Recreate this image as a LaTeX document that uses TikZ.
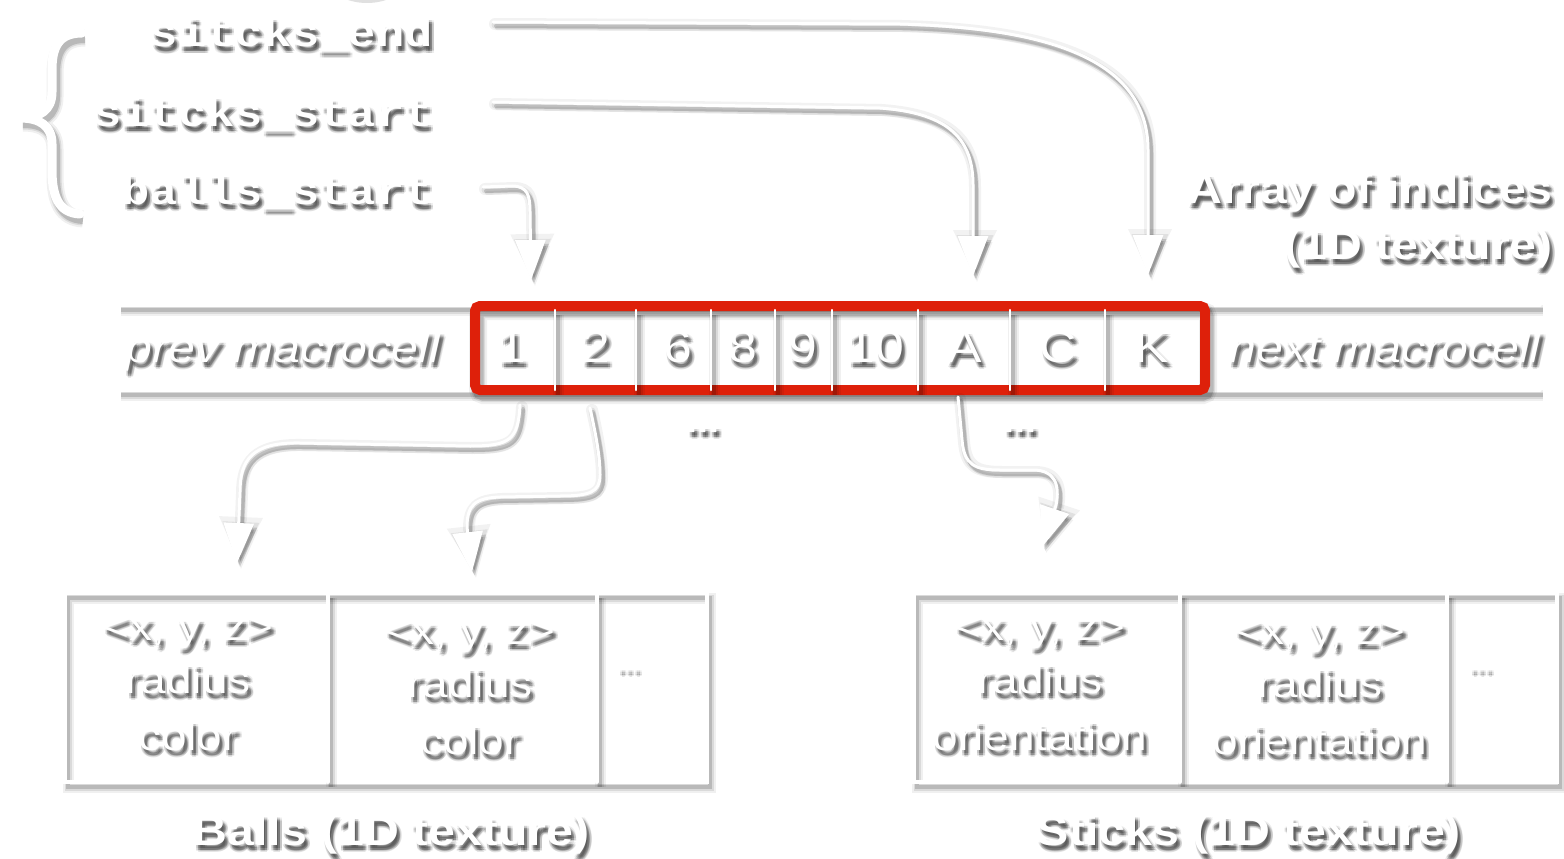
\documentclass[tikz,border=0pt]{standalone}
\usepackage{graphicx}
\usepackage{fontspec}
\setmainfont{Liberation Sans}
\newfontfamily\monob{Liberation Mono}
\usetikzlibrary{arrows.meta,calc,fadings}
\definecolor{boxred}{RGB}{222,32,10}
\newcommand{\W}[1]{\scalebox{1.15}[1]{#1}}
\newcommand{\fmono}{\fontsize{41}{48}\selectfont\monob\bfseries}
\newcommand{\fbig}{\fontsize{42}{50}\selectfont\bfseries}
\newcommand{\fital}{\fontsize{42}{50}\selectfont\itshape}
\newcommand{\fdig}{\fontsize{45}{50}\selectfont}
\newcommand{\fcell}{\fontsize{40}{48}\selectfont}
\newcommand{\fdots}{\fontsize{40}{48}\selectfont\bfseries}
\newcommand{\fsdots}{\fontsize{24}{30}\selectfont}
% text with a soft drop shadow (the shadow is a faded fill, not text)
\newcommand{\shtext}[5]{%
  \pgfdeclarefading{#1f}{\pgfinterruptpicture\color{white}#4#5\endpgfinterruptpicture}%
  \node[anchor=#3,font=#4,inner sep=0pt] (#1p) at #2 {\phantom{#5}};
  \foreach \dx/\dy/\op in {3/-5/0.22,1/-5/0.10,5/-5/0.10,3/-3/0.10,3/-7/0.10,
                           1.3/-3.3/0.07,4.7/-3.3/0.07,1.3/-6.7/0.07,4.7/-6.7/0.07}{%
    \begin{scope}[transform canvas={shift={($(#1p.center)+(\dx pt,\dy pt)$)}}]
      \fill[black,opacity=\op,path fading=#1f,fit fading=false] (-500pt,-60pt) rectangle (500pt,60pt);
    \end{scope}}%
  \node[anchor=#3,font=#4,text=white,inner sep=0pt] (#1) at #2 {#5};}
\tikzset{
  shadowline/.style={
    preaction={draw=black,opacity=0.06,line width=#1+8pt,transform canvas={shift={(3pt,-5pt)}}},
    preaction={draw=black,opacity=0.09,line width=#1+4pt,transform canvas={shift={(3pt,-5pt)}}},
    preaction={draw=black,opacity=0.15,line width=#1+1pt,transform canvas={shift={(3pt,-5pt)}}}},
  wl/.style={draw=white,line width=3pt,line cap=round,shadowline=3pt},
  tip/.style={-{Triangle[width=30pt,length=40pt]}},
  bigtip/.style={-{Triangle[width=40pt,length=48pt]}},
  midtip/.style={-{Triangle[width=35pt,length=44pt]}},
  conn/.style={draw=white,line width=3pt,line cap=round,tip},
  fillshadow/.style={preaction={fill=black,opacity=0.12,transform canvas={shift={(2pt,-5pt)}}}},
}
% connector with its drop shadow
\newcommand{\connect}[1]{%
  \draw[black,opacity=0.05,line width=12pt,line cap=round,bigtip,transform canvas={shift={(2pt,-2pt)}}] #1;
  \draw[black,opacity=0.07,line width=7pt,line cap=round,midtip,transform canvas={shift={(2pt,-3pt)}}] #1;
  \draw[black,opacity=0.14,line width=4pt,line cap=round,tip,transform canvas={shift={(3pt,-4pt)}}] #1;
  \draw[black,opacity=0.06,line width=4pt,line cap=round,tip,transform canvas={shift={(4pt,-6pt)}}] #1;
  \draw[conn] #1;}
\begin{document}
\begin{tikzpicture}[x=1pt,y=-1pt]
\useasboundingbox (0,0) rectangle (1564,859);
\fill[white] (0,0) rectangle (1564,859);

% faint shape at top edge
\fill[white,fillshadow] (365,-30) ellipse [x radius=42pt, y radius=28pt];

% brace
\draw[draw=white,line width=9pt,line cap=round,shadowline=9pt]
  (82,33) .. controls (58,33) and (52,48) .. (52,70) -- (52,92)
  .. controls (52,110) and (40,118) .. (20,118)
  .. controls (40,118) and (52,126) .. (52,144) -- (52,170)
  .. controls (52,195) and (58,213) .. (80,214);

% labels
\shtext{lend}{(433,47)}{base east}{\fmono}{\W{sitcks\_end}}
\shtext{lsst}{(433,126)}{base east}{\fmono}{\W{sitcks\_start}}
\shtext{lbst}{(433,204)}{base east}{\fmono}{\W{balls\_start}}

\shtext{arr1}{(1553,203)}{base east}{\fbig}{\W{Array of indices}}
\shtext{arr2}{(1553,259)}{base east}{\fbig}{\W{(1D texture)}}

% array rails
\draw[wl] (118,305) -- (1540,305);
\draw[wl] (118,390) -- (1540,390);

% red macrocell box
\draw[boxred,line width=10pt,rounded corners=5pt,shadowline=10pt] (475,306) rectangle (1205,390);
\foreach \xx [count=\i] in {555,636,711,775,832,918,1010,1105}{
  \draw[wl,line width=2.5pt] (\xx,310) -- (\xx,390);}

\shtext{prev}{(283,362)}{base}{\fital}{\W{prev macrocell}}
\shtext{next}{(1385,362)}{base}{\fital}{\W{next macrocell}}
\shtext{d1}{(512,362)}{base}{\fdig}{\W{1}}
\shtext{d2}{(596,362)}{base}{\fdig}{\W{2}}
\shtext{d6}{(678,362)}{base}{\fdig}{\W{6}}
\shtext{d8}{(743,362)}{base}{\fdig}{\W{8}}
\shtext{d9}{(803,362)}{base}{\fdig}{\W{9}}
\shtext{d10}{(875,362)}{base}{\fdig}{\W{10}}
\shtext{dA}{(965,362)}{base}{\fdig}{\W{A}}
\shtext{dC}{(1058,362)}{base}{\fdig}{\W{C}}
\shtext{dK}{(1152,362)}{base}{\fdig}{\W{K}}
\shtext{dotsa}{(703,432)}{base}{\fdots}{...}
\shtext{dotsb}{(1020,432)}{base}{\fdots}{...}

% bottom boxes
\draw[wl,line width=3.5pt] (65,593) rectangle (707,782);
\draw[wl,line width=3.5pt] (328,593) -- (328,782);
\draw[wl,line width=3.5pt] (597,593) -- (597,782);
\draw[wl,line width=3.5pt] (914,593) rectangle (1557,782);
\draw[wl,line width=3.5pt] (1180,593) -- (1180,782);
\draw[wl,line width=3.5pt] (1447,593) -- (1447,782);

\shtext{b1a}{(188,640)}{base}{\fcell}{\W{<x, y, z>}}
\shtext{b1b}{(188,693)}{base}{\fcell}{\W{radius}}
\shtext{b1c}{(188,750)}{base}{\fcell}{\W{color}}
\shtext{b2a}{(470,644)}{base}{\fcell}{\W{<x, y, z>}}
\shtext{b2b}{(470,697)}{base}{\fcell}{\W{radius}}
\shtext{b2c}{(470,754)}{base}{\fcell}{\W{color}}
\shtext{b3}{(628,670)}{base}{\fsdots}{\W{...}}
\shtext{s1a}{(1040,640)}{base}{\fcell}{\W{<x, y, z>}}
\shtext{s1b}{(1040,693)}{base}{\fcell}{\W{radius}}
\shtext{s1c}{(1040,750)}{base}{\fcell}{\W{orientation}}
\shtext{s2a}{(1320,644)}{base}{\fcell}{\W{<x, y, z>}}
\shtext{s2b}{(1320,697)}{base}{\fcell}{\W{radius}}
\shtext{s2c}{(1320,754)}{base}{\fcell}{\W{orientation}}
\shtext{s3}{(1480,670)}{base}{\fsdots}{\W{...}}

\shtext{tball}{(391,845)}{base}{\fbig}{\W{Balls (1D texture)}}
\shtext{tstick}{(1249,845)}{base}{\fbig}{\W{Sticks (1D texture)}}

% connector end points
\coordinate (p1) at (493,22);
\coordinate (p2) at (493,102);
\coordinate (p3) at (483,187);
\coordinate (tK) at (1148,275);
\coordinate (tA) at (973,276);
\coordinate (t1) at (531,280);
\coordinate (c1) at (520,405);
\coordinate (c2) at (590,408);
\coordinate (cA) at (958,397);
\coordinate (tb1) at (237,563);
\coordinate (tb2) at (472,572);
\coordinate (ts1) at (1042,547);

\connect{(p1) -- (900,24) .. controls (1050,28) and (1148,60) .. (1148,150) -- (tK)}
\connect{(p2) -- (880,108) .. controls (950,113) and (973,140) .. (973,185) -- (tA)}
\connect{(p3) -- (512,186) .. controls (528,186) and (530,196) .. (530,212) -- (t1)}
\connect{(c1) .. controls (518,440) and (510,446) .. (470,446) -- (300,443)
  .. controls (252,442) and (240,460) .. (240,492) -- (tb1)}
\connect{(c2) .. controls (597,440) and (600,458) .. (600,475)
  .. controls (600,492) and (590,496) .. (560,496) -- (500,497)
  .. controls (475,498) and (467,505) .. (467,527) -- (tb2)}
\connect{(cA) -- (962,440) .. controls (964,465) and (975,470) .. (1000,470) -- (1033,470)
  .. controls (1055,470) and (1060,485) .. (1056,505) -- (ts1)}
\end{tikzpicture}
\end{document}
